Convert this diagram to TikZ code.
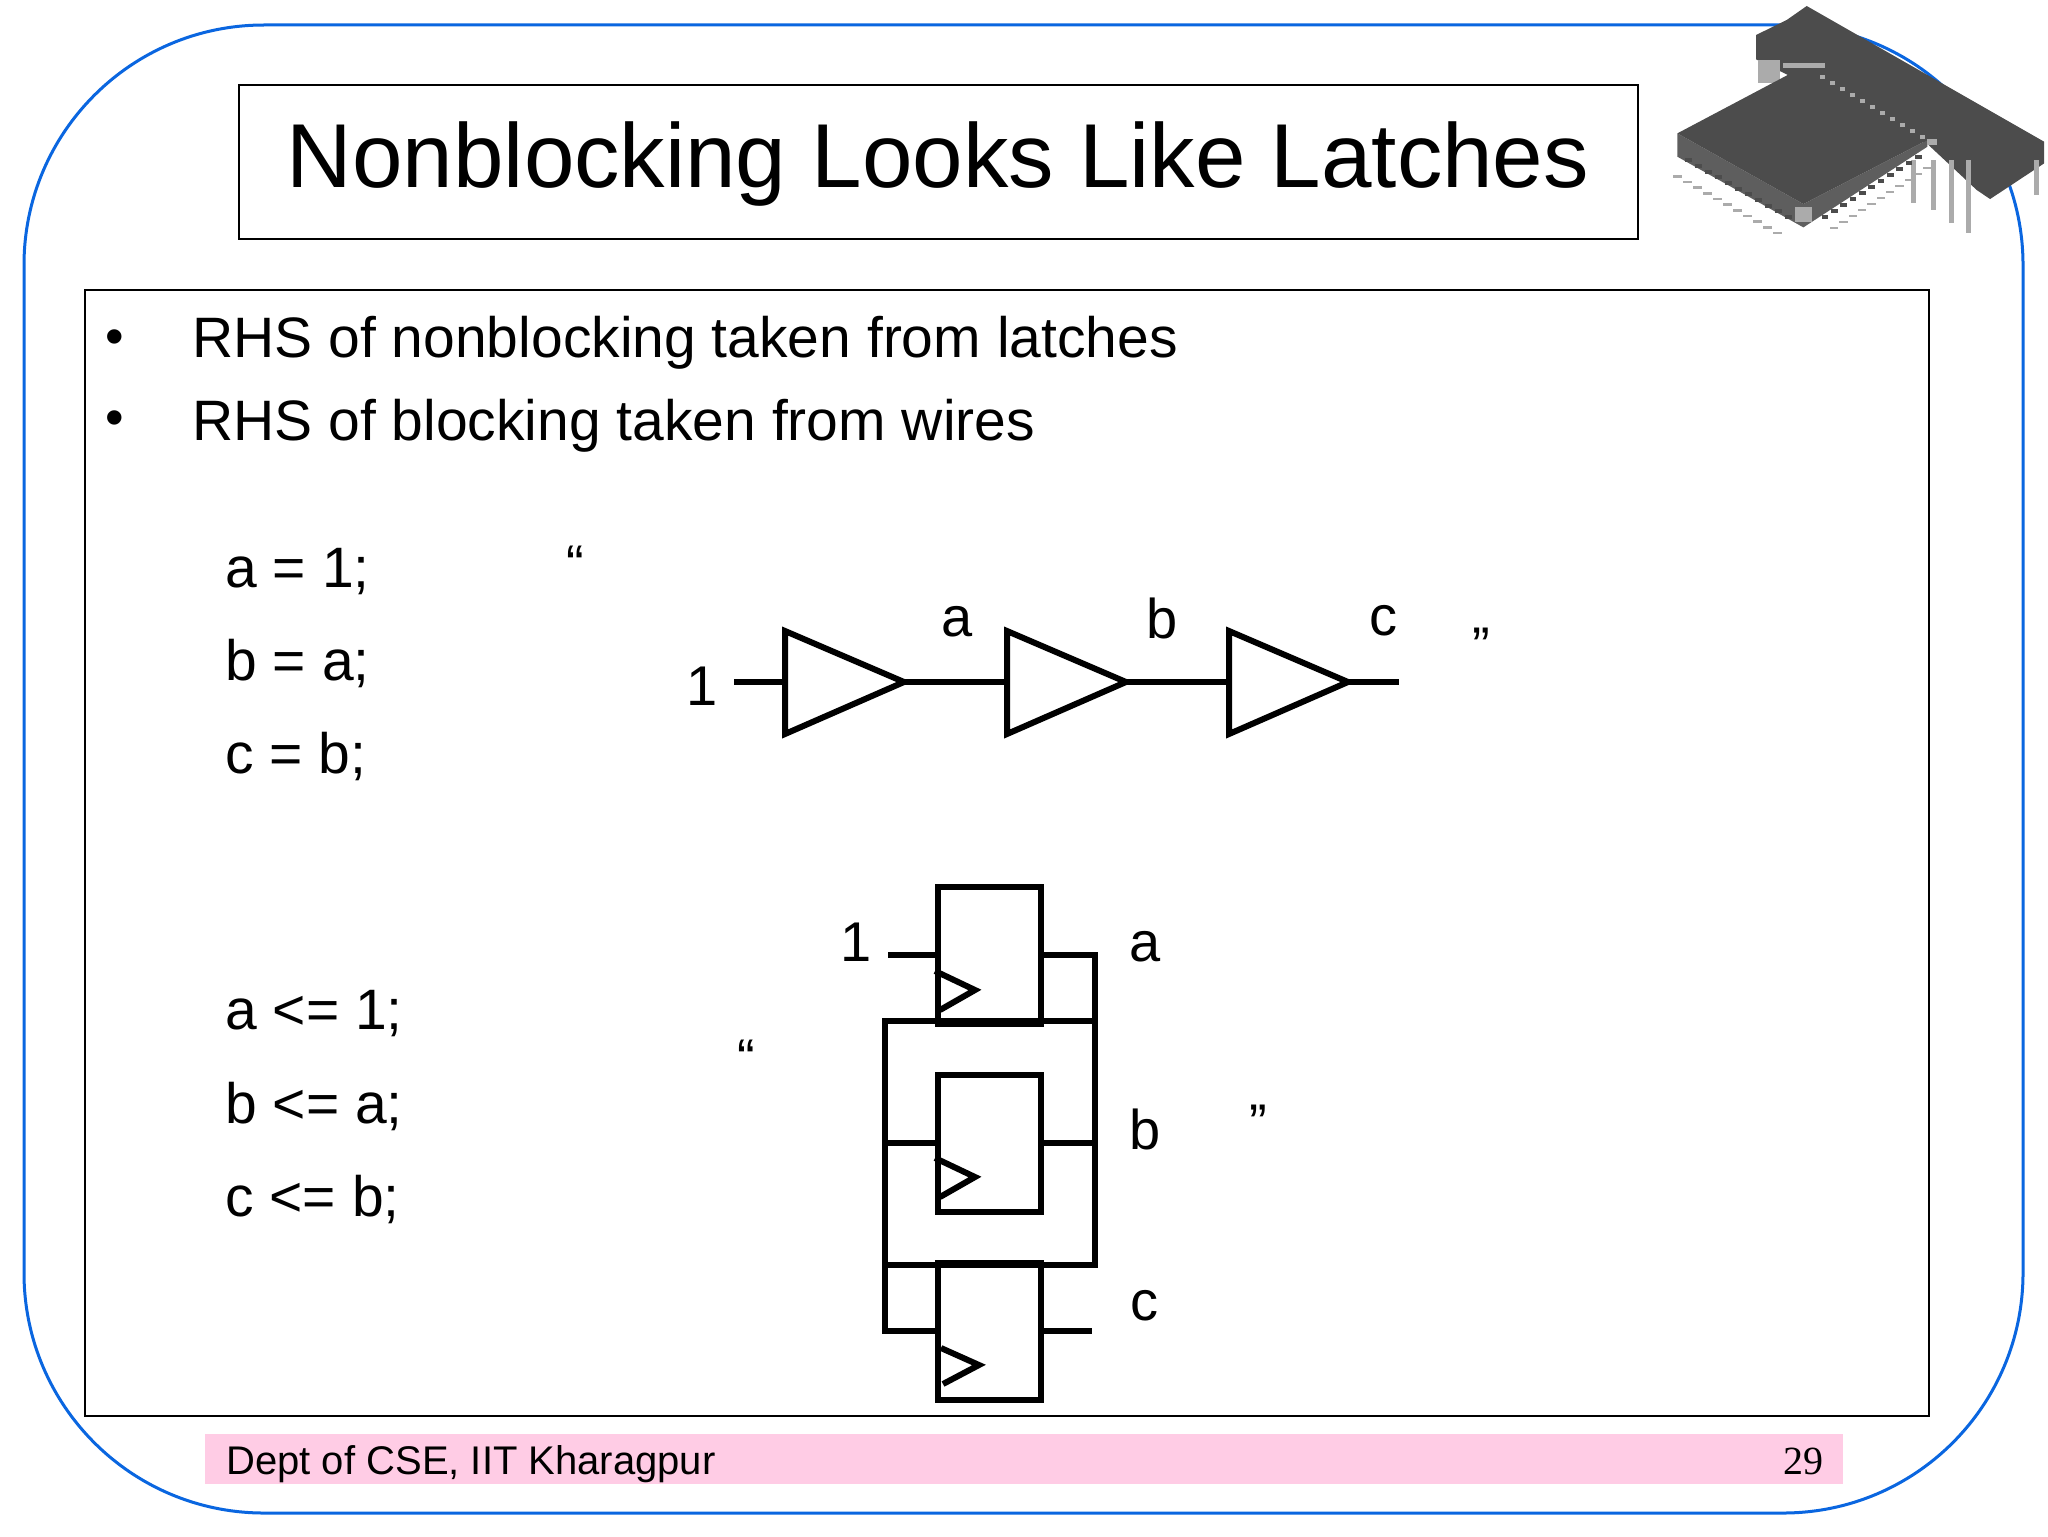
\documentclass[tikz,border=0pt]{standalone}
\usepackage{fontspec}
\setmainfont{Liberation Sans}
\newfontfamily\numfont{Liberation Serif}
\usetikzlibrary{calc}
\definecolor{frameblue}{HTML}{0A66E0}
\definecolor{footpink}{HTML}{FFCCE5}
\definecolor{chipgrey}{HTML}{4C4C4C}
\definecolor{chipside}{HTML}{5E5E5E}
\definecolor{pingrey}{HTML}{ABABAB}
\tikzset{
 frame/.style={draw=frameblue,line width=1.5pt,rounded corners=120pt},
 panel/.style={draw=black,line width=0.75pt,fill=white,inner sep=0pt,rectangle},
 body/.style={font=\fontsize{28.5}{32}\selectfont,anchor=base west,inner sep=0pt},
 bulletmark/.style={font=\fontsize{26.5}{30}\selectfont,anchor=base west,inner sep=0pt},
 lab/.style={font=\fontsize{28}{32}\selectfont,inner sep=0pt},
 quote/.style={font=\fontsize{26.5}{30}\selectfont,inner sep=0pt,anchor=center},
 wire/.style={draw=black,line width=3pt,line cap=butt,line join=miter},
 thin wire/.style={draw=black,line width=2.7pt},
 latch/.style={draw=black,line width=3pt,minimum width=51.5pt,minimum height=68.5pt,inner sep=0pt,rectangle},
 buf/.style={draw=black,line width=3pt,line join=miter},
}
\begin{document}
\begin{tikzpicture}[x=0.5pt,y=-0.5pt]
\useasboundingbox (0,0) rectangle (2048,1536);
\fill[white] (0,0) rectangle (2048,1536);
% slide frame
\draw[frame] (24,25) rectangle (2023,1513);
% footer
\fill[footpink] (205,1434) rectangle (1843,1484);
\node[font=\fontsize{20}{24}\selectfont,anchor=base west,inner sep=0pt] (foot) at (226,1474) {Dept of CSE, IIT Kharagpur};
\node[font=\numfont\fontsize{20}{24}\selectfont,anchor=base east,inner sep=0pt] (num) at (1824,1474) {29};
% title and content panels
\node[panel,minimum width=699.5pt,minimum height=77pt] (titlebox) at (938.5,162) {};
\node[font=\fontsize{45.4}{50}\selectfont,inner sep=0pt,anchor=base] (title) at (938,187) {Nonblocking Looks Like Latches};
\node[panel,minimum width=922pt,minimum height=563pt] (content) at (1007,853) {};
% bullets
\node[bulletmark] (b1) at (105,354) {•};
\node[bulletmark] (b2) at (105,435) {•};
\node[body] (t1) at (192,357) {RHS of nonblocking taken from latches};
\node[body] (t2) at (192,440) {RHS of blocking taken from wires};
% code
\node[body] (c1) at (225,587) {a = 1;};
\node[body] (c2) at (225,680) {b = a;};
\node[body] (c3) at (225,773) {c = b;};
\node[body] (d1) at (225,1029) {a <= 1;};
\node[body] (d2) at (225,1123) {b <= a;};
\node[body] (d3) at (225,1216) {c <= b;};
% quote marks
\node[quote] (q1) at (575,564) {“};
\node[quote] (q2) at (1481,646) {”};
\node[quote] (q3) at (746,1058) {“};
\node[quote] (q4) at (1258,1123) {”};
% buffer chain
\coordinate (in) at (734,682);
\coordinate (out) at (1399,682);
\foreach \n/\x in {p/785,q/1007,r/1229}{
  \coordinate (\n top) at (\x,631);
  \coordinate (\n bot) at (\x,734);
  \coordinate (\n tip) at (\x+119,682);
  \coordinate (\n in) at (\x,682);
  \draw[buf] (\n top) -- (\n tip) -- (\n bot) -- cycle;
}
\draw[wire] (in) -- (pin);
\draw[wire] (ptip) -- (qin);
\draw[wire] (qtip) -- (rin);
\draw[wire] (rtip) -- (out);
\node[lab] (l1) at (702,686) {1};
\node[lab] (la) at (957,622) {a};
\node[lab] (lb) at (1162,618) {b};
\node[lab] (lc) at (1383,621) {c};
% latches
\node[latch] (A) at (989.5,955) {};
\node[latch] (B) at (989.5,1143) {};
\node[latch] (C) at (989.5,1331) {};
\draw[wire] (935,971) -- (975,990) -- (940,1010);
\draw[wire] (935,1158) -- (975,1177) -- (940,1197);
\draw[wire] (941,1348) -- (979,1365) -- (943,1384);
% a output loop
\coordinate (ain) at (888,955);
\coordinate (loopTR) at (1095,955);
\coordinate (loopTL) at (885,1021);
\coordinate (loopMR) at (1095,1021);
\coordinate (loopBR) at (1095,1265);
\coordinate (loopBL) at (885,1265);
\coordinate (cinL) at (885,1331);
\coordinate (cout) at (1092,1331);
\draw[wire] (ain) -- (A.west |- ain);
\draw[wire] (A.east |- loopTR) -- (loopTR) -- (loopBR) -- (loopBL);
\draw[wire] (loopMR) -- (loopTL) -- (loopBL) -- (cinL) -- (C.west |- cinL);
\draw[wire] (C.east |- cout) -- (cout);
\draw[thin wire] (885,1143) -- (B.west);
\draw[thin wire] (B.east) -- (1095,1143);
\node[lab] (ll) at (856,942) {1};
\node[lab] (ma) at (1145,947) {a};
\node[lab] (mb) at (1145,1129) {b};
\node[lab] (mc) at (1144,1306) {c};
% chip
\begin{scope}[shift={(1640,0)},x=0.1667pt,y=-0.1667pt]
 \fill[chipgrey] (500,18)--(1212,425)--(1212,490)--(1050,597)--(1010,570)--(860,430)--(348,178)--(348,105)--(440,60)--cycle;
 \fill[pingrey] (355,180) rectangle (420,250);
 \foreach \x/\h in {820/610,880/630,935/670,985/700,1190/585}{
   \fill[pingrey] (\x-8,480) rectangle (\x+8,\h);
 }
 \fill[chipside] (112,400)--(490,612)--(862,420)--(862,440)--(490,682)--(112,470)--cycle;
 \fill[chipgrey] (490,200)--(862,420)--(490,612)--(112,400)--cycle;
 \fill[pingrey] (465,620) rectangle (515,665);
 \foreach \i in {0,...,10}{
   \fill[black!70] ({135+\i*30},{475+\i*17}) rectangle ++(20,12);
   \fill[pingrey] ({100+\i*30},{525+\i*17}) rectangle ++(25,8);
 }
 \foreach \i in {0,...,10}{
   \fill[black!70] ({545+\i*28},{645-\i*18}) rectangle ++(20,12);
   \fill[pingrey] ({570+\i*28},{680-\i*18}) rectangle ++(25,8);
 }
 \foreach \i in {0,...,10}{
   \fill[pingrey] ({540+\i*30},{225+\i*18}) rectangle ++(14,12);
 }
 \fill[pingrey] (430,190) rectangle (555,205);
 \fill[pingrey] (862,418) rectangle (892,436);
\end{scope}
\end{tikzpicture}
\end{document}
